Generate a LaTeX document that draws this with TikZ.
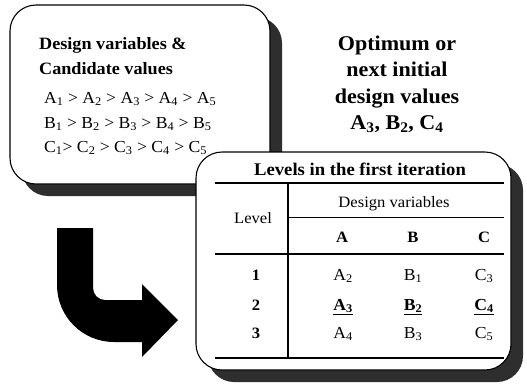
\documentclass[tikz,border=0pt]{standalone}
\usepackage{fontspec}
\setmainfont{Liberation Serif}[FakeStretch=1.05]
\usetikzlibrary{shadows}
\newcommand\myfs[1]{\fontsize{#1}{#1}\selectfont}
\newcommand\sub[1]{\textsubscript{#1}}
\begin{document}
\begin{tikzpicture}[x=1pt,y=-1pt,
  box/.style={draw=black, line width=1.1pt, fill=white, rounded corners=26pt, inner sep=0pt,
    drop shadow={shadow xshift=12pt, shadow yshift=-12pt, fill=black!82, opacity=1}},
  lt/.style={inner sep=0pt, anchor=base west},
  ct/.style={inner sep=0pt, anchor=base},
  thickrule/.style={line width=2.4pt},
  thinrule/.style={line width=0.8pt}]
\useasboundingbox (0,0) rectangle (527,386);

% left box
\node[box, minimum width=260pt, minimum height=179pt] (lbox) at (140,94.5) {};
\node[lt, font=\myfs{17.3}\bfseries] (t1) at (39,49) {Design variables \&};
\node[lt, font=\myfs{17.3}\bfseries] (t2) at (39,74) {Candidate values};
\node[lt, font=\myfs{16.8}] (ra) at (44,103) {A\sub{1} > A\sub{2} > A\sub{3} > A\sub{4} > A\sub{5}};
\node[lt, font=\myfs{16.8}] (rb) at (44,128) {B\sub{1} > B\sub{2} > B\sub{3} > B\sub{4} > B\sub{5}};
\node[lt, font=\myfs{16.8}] (rc) at (44,152) {C\sub{1}> C\sub{2} > C\sub{3} > C\sub{4} > C\sub{5}};

% right text
\node[ct, font=\myfs{21}\bfseries] (o1) at (397,50) {Optimum or};
\node[ct, font=\myfs{21}\bfseries] (o2) at (397,76) {next initial};
\node[ct, font=\myfs{21}\bfseries] (o3) at (397,103) {design values};
\node[ct, font=\myfs{21}\bfseries] (o4) at (397,129) {A\sub{3}, B\sub{2}, C\sub{4}};

% right box
\node[box, minimum width=315pt, minimum height=218pt] (rbox) at (353.5,261) {};
\node[ct, font=\myfs{17.8}\bfseries] (title) at (360,175) {Levels in the first iteration};
\coordinate (tl) at (215,183);
\coordinate (tr) at (504,183);
\coordinate (vt) at (288,183);
\coordinate (vb) at (288,358);
\coordinate (ml) at (215,254);
\coordinate (mr) at (504,254);
\coordinate (bl) at (215,358);
\coordinate (br) at (504,358);
\coordinate (sl) at (288,217);
\coordinate (sr) at (504,217);
\draw[thickrule] (tl) -- (tr);
\draw[thickrule] (bl) -- (br);
\draw[line width=2pt] (ml) -- (mr);
\draw[line width=2pt] (vt) -- (vb);
\draw[thinrule] (sl) -- (sr);

\node[ct, font=\myfs{15.8}] (lev) at (253,223) {Level};
\node[ct, font=\myfs{15.8}] (dv) at (394,207) {Design variables};
\node[ct, font=\myfs{15.8}\bfseries] (ha) at (342,242) {A};
\node[ct, font=\myfs{15.8}\bfseries] (hb) at (413,242) {B};
\node[ct, font=\myfs{15.8}\bfseries] (hc) at (484,242) {C};

\node[ct, font=\myfs{15.8}\bfseries] (n1) at (256,280) {1};
\node[ct, font=\myfs{15.8}\bfseries] (n2) at (256,310) {2};
\node[ct, font=\myfs{15.8}\bfseries] (n3) at (256,338) {3};

\node[ct, font=\myfs{16.8}] (a1) at (343,280) {A\sub{2}};
\node[ct, font=\myfs{16.8}] (b1) at (413,280) {B\sub{1}};
\node[ct, font=\myfs{16.8}] (c1) at (484,280) {C\sub{3}};
\node[ct, font=\myfs{16.8}\bfseries] (a2) at (343,310) {\underline{A\sub{3}}};
\node[ct, font=\myfs{16.8}\bfseries] (b2) at (413,310) {\underline{B\sub{2}}};
\node[ct, font=\myfs{16.8}\bfseries] (c2) at (484,310) {\underline{C\sub{4}}};
\node[ct, font=\myfs{16.8}] (a3) at (343,338) {A\sub{4}};
\node[ct, font=\myfs{16.8}] (b3) at (413,338) {B\sub{3}};
\node[ct, font=\myfs{16.8}] (c3) at (484,338) {C\sub{5}};

% bent arrow
\fill[black] (57,228) -- (93,228) -- (93,288) .. controls (93,294.6) and (98.4,300) .. (105,300)
  -- (142,300) -- (142,284) -- (178,320) -- (142,357) -- (142,342) -- (114,342)
  .. controls (82.5,342) and (57,316.5) .. (57,285) -- cycle;
\end{tikzpicture}
\end{document}
